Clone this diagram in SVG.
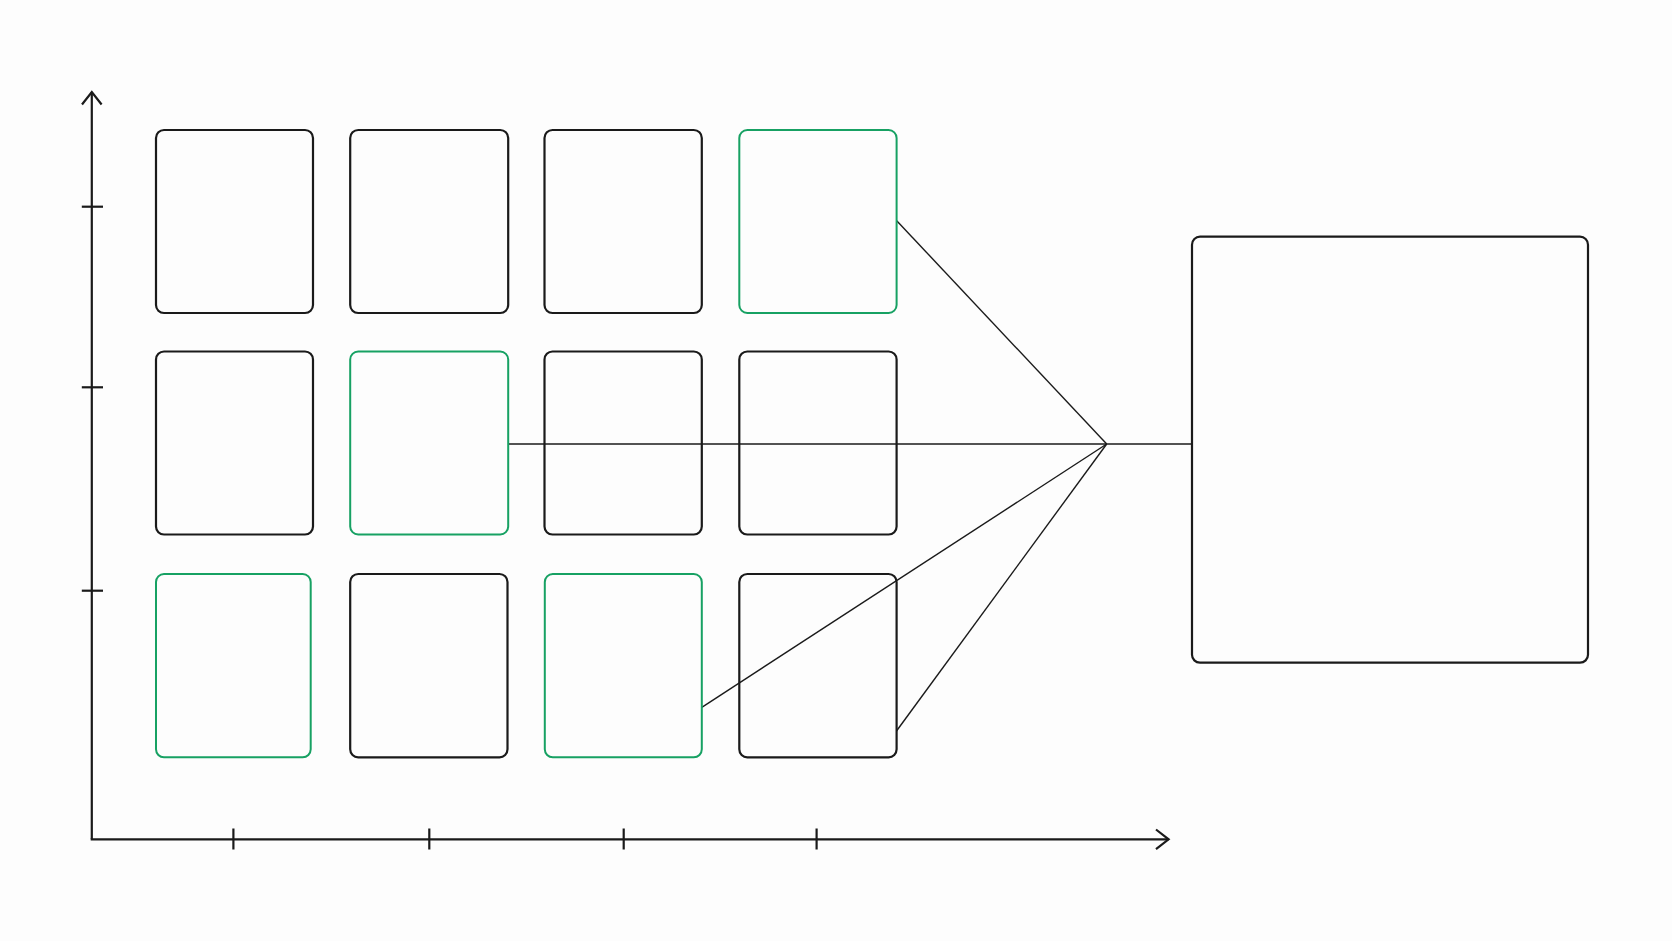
<svg xmlns="http://www.w3.org/2000/svg" width="1672" height="941" viewBox="0 0 1672 941">
<style>
.box{fill:none;stroke:#1a1a1a;stroke-width:2.2}
.hl{fill:none;stroke:#17a163;stroke-width:2}
.ax{fill:none;stroke:#1a1a1a;stroke-width:2.2;stroke-linecap:butt}
.cn{fill:none;stroke:#1a1a1a;stroke-width:1.4}
</style>
<rect width="1672" height="941" fill="#fdfdfd"/>
<g id="axes">
<line class="ax" x1="91.8" y1="92" x2="91.8" y2="839.3"/>
<polyline class="ax" points="82,104.5 91.8,92 101.6,104.5"/>
<line class="ax" x1="90.7" y1="839.3" x2="1168.6" y2="839.3"/>
<polyline class="ax" points="1156,829.5 1168.6,839.3 1156,849.1"/>
<line class="ax" x1="81.8" y1="206.7" x2="103" y2="206.7"/>
<line class="ax" x1="81.8" y1="387.3" x2="103" y2="387.3"/>
<line class="ax" x1="81.8" y1="590.7" x2="103" y2="590.7"/>
<line class="ax" x1="233.4" y1="828.5" x2="233.4" y2="849.5"/>
<line class="ax" x1="429.3" y1="828.5" x2="429.3" y2="849.5"/>
<line class="ax" x1="623.7" y1="828.5" x2="623.7" y2="849.5"/>
<line class="ax" x1="816.6" y1="828.5" x2="816.6" y2="849.5"/>
</g>
<g id="connectors">
<line class="cn" x1="896.7" y1="220.7" x2="1106.7" y2="444"/>
<line class="cn" x1="508.3" y1="444" x2="1106.7" y2="444"/>
<line class="cn" x1="701.8" y1="707.3" x2="1106.7" y2="444"/>
<line class="cn" x1="896.5" y1="731" x2="1106.7" y2="444"/>
<line class="cn" x1="1106.7" y1="444" x2="1192" y2="444"/>
</g>
<g id="r1c1"><rect class="box" x="156" y="130" width="157" height="183" rx="8"/></g>
<g id="r1c2"><rect class="box" x="350.2" y="130" width="158" height="183" rx="8"/></g>
<g id="r1c3"><rect class="box" x="544.5" y="130" width="157.3" height="183" rx="8"/></g>
<g id="r1c4"><rect class="hl" x="739.3" y="130" width="157.3" height="183" rx="8"/></g>
<g id="r2c1"><rect class="box" x="156" y="351.5" width="157" height="183" rx="8"/></g>
<g id="r2c2"><rect class="hl" x="350.2" y="351.5" width="158" height="183" rx="8"/></g>
<g id="r2c3"><rect class="box" x="544.5" y="351.5" width="157.3" height="183" rx="8"/></g>
<g id="r2c4"><rect class="box" x="739.3" y="351.5" width="157.3" height="183" rx="8"/></g>
<g id="r3c1"><rect class="hl" x="156" y="574" width="154.7" height="183.3" rx="8"/></g>
<g id="r3c2"><rect class="box" x="350.2" y="574" width="157.3" height="183.3" rx="8"/></g>
<g id="r3c3"><rect class="hl" x="544.8" y="574" width="157" height="183.3" rx="8"/></g>
<g id="r3c4"><rect class="box" x="739.3" y="574" width="157.3" height="183.3" rx="8"/></g>
<g id="result"><rect class="box" x="1192" y="236.7" width="396" height="426" rx="8"/></g>
</svg>
